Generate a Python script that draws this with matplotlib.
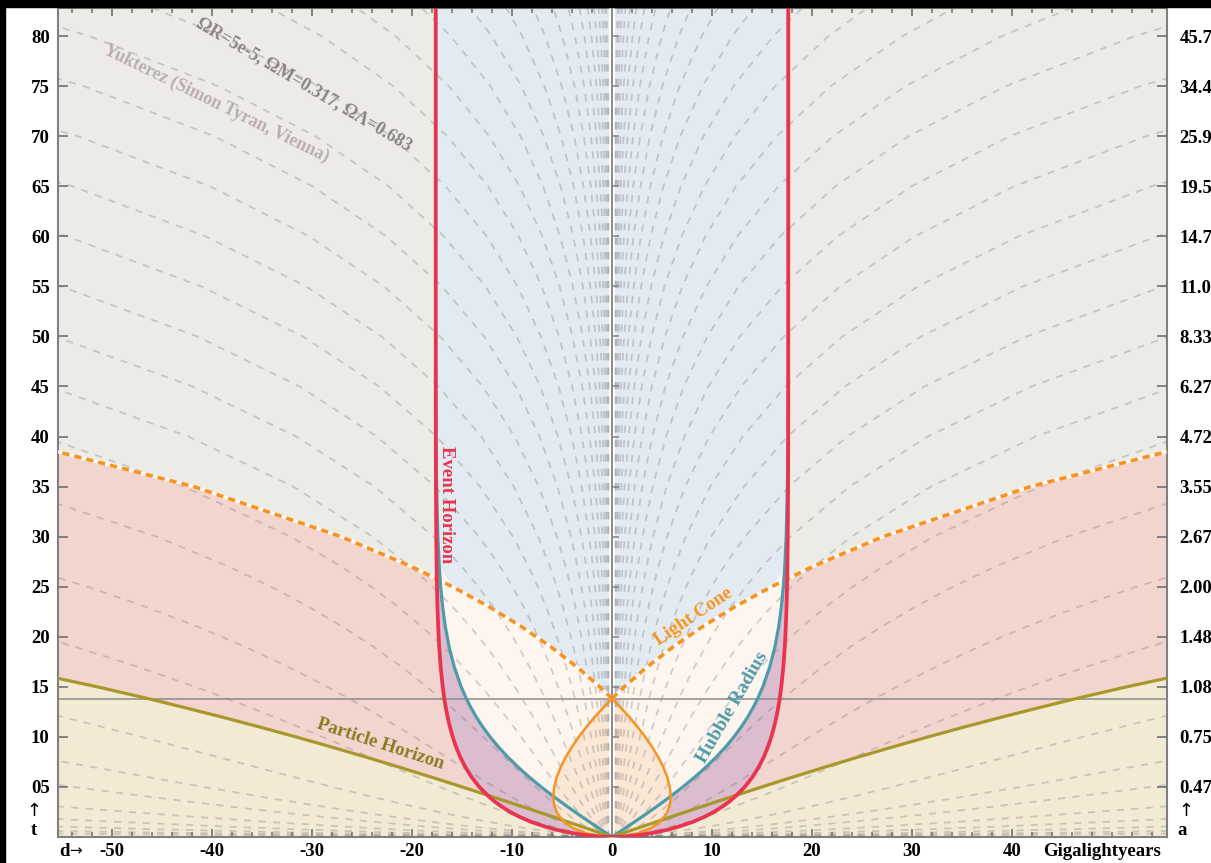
from matplotlib import pyplot as plt
from matplotlib.patches import Rectangle
import numpy as np

# cosmic time (Gyr) and the quantities read / estimated along it
t_gyr = [0, 0.02, 0.05, 0.1, 0.2, 0.35, 0.5, 0.75, 1, 1.5, 2, 2.5, 3, 3.5, 4, 5, 6, 7, 8, 9, 10, 11, 12, 13,
         13.83, 15, 17, 19, 21, 23, 25, 27, 30, 35, 40, 45, 50, 55, 60, 65, 70, 75, 80, 84]
scale_a = [0, 0.0112, 0.0205, 0.0324, 0.0514, 0.0745, 0.0945, 0.1238, 0.1500, 0.1968, 0.2387, 0.2774, 0.3140,
           0.3488, 0.3824, 0.4469, 0.5091, 0.5700, 0.6304, 0.6910, 0.7522, 0.8145, 0.8783, 0.9440,
           1.0, 1.0822, 1.2318, 1.3953, 1.5752, 1.7742, 1.9951, 2.2410, 2.6639, 3.5456, 4.7129, 6.2610,
           8.3156, 11.0432, 14.6648, 19.4739, 25.8598, 34.3396, 45.6000, 57.2137]
event_horizon = [0, 0.652, 1.155, 1.767, 2.677, 3.706, 4.531, 5.653, 6.574, 8.052, 9.218, 10.177, 10.985,
                 11.679, 12.281, 13.273, 14.053, 14.676, 15.181, 15.593, 15.931, 16.210, 16.441, 16.634,
                 16.768, 16.928, 17.134, 17.279, 17.381, 17.453, 17.504, 17.541, 17.576, 17.607, 17.620,
                 17.626, 17.628, 17.629, 17.630, 17.630, 17.630, 17.630, 17.630, 17.630]
hubble_radius = [0, 0.030, 0.075, 0.151, 0.301, 0.526, 0.751, 1.125, 1.498, 2.240, 2.973, 3.696, 4.407,
                 5.102, 5.781, 7.080, 8.294, 9.415, 10.438, 11.364, 12.193, 12.930, 13.581, 14.153,
                 14.570, 15.083, 15.779, 16.293, 16.668, 16.940, 17.136, 17.277, 17.418, 17.539, 17.591,
                 17.613, 17.623, 17.627, 17.629, 17.629, 17.630, 17.630, 17.630, 17.630]
particle_horizon = [0, 0.054, 0.139, 0.282, 0.570, 1.006, 1.444, 2.176, 2.911, 4.386, 5.869, 7.360, 8.861,
                    10.372, 11.894, 14.980, 18.129, 21.355, 24.670, 28.086, 31.618, 35.277, 39.079, 43.037,
                    46.410, 51.481, 60.731, 70.921, 82.192, 94.700, 108.612, 124.117, 150.815, 206.522,
                    280.299, 378.152, 508.024, 680.444, 909.381, 1213.375, 1617.045, 2153.080, 2864.883,
                    3599.023]
past_cone = [0, 0.465, 0.812, 1.224, 1.816, 2.456, 2.946, 3.576, 4.058, 4.753, 5.216, 5.525, 5.721, 5.830,
             5.868, 5.778, 5.516, 5.118, 4.610, 4.006, 3.318, 2.552, 1.713, 0.805,
             0, 0, 0, 0, 0, 0, 0, 0, 0, 0, 0, 0, 0, 0, 0, 0, 0, 0, 0, 0]
future_cone = [0] * 25 + [1.219, 3.521, 6.118, 9.033, 12.298, 15.951, 20.037, 27.093, 41.848, 61.409,
                          87.362, 121.811, 167.549, 228.278, 308.918, 416.000, 558.194, 747.014, 941.759]
t_now = 13.83

# comoving distances (Gly) of the dashed worldlines
comoving = [0.0104, 0.0139, 0.0187, 0.0251, 0.0337, 0.0452, 0.0606, 0.0814, 0.1092, 0.1466, 0.197, 0.264,
            0.354, 0.475, 0.637, 0.855, 1.147, 1.539, 2.066, 2.772, 3.72, 4.99, 6.70, 8.99, 12.07,
            17.1, 26.3, 38.5, 62.6, 91.3, 120.6, 174, 250, 360, 520, 750]

y_ticks = [5, 10, 15, 20, 25, 30, 35, 40, 45, 50, 55, 60, 65, 70, 75, 80]
y_labels = ["05", "10", "15", "20", "25", "30", "35", "40", "45", "50", "55", "60", "65", "70", "75", "80"]
a_labels = ["0.47", "0.75", "1.08", "1.48", "2.00", "2.67", "3.55", "4.72", "6.27", "8.33", "11.0", "14.7",
            "19.5", "25.9", "34.4", "45.7"]
x_ticks = [-50, -40, -30, -20, -10, 0, 10, 20, 30, 40]

serif = ['Liberation Serif', 'DejaVu Serif']
c_bg, c_pink, c_beige = '#edebe6', '#f2d5cf', '#f2ead5'
c_blue, c_purple, c_cream, c_peach = '#e3eaf2', '#dcbccf', '#fdf5ee', '#fbe7d6'
c_red, c_teal, c_olive, c_orange = '#e8344e', '#4e9baa', '#a8982b', '#f7931e'
TICKFS = 13.5

t = np.array(t_gyr)
a = np.array(scale_a)
dE = np.array(event_horizon)
dH = np.array(hubble_radius)
dP = np.array(particle_horizon)
dPast = np.array(past_cone)
dF = np.array(future_cone)
XMAX = 60

fig = plt.figure(figsize=(12.11, 8.63), dpi=100)
ax = fig.add_axes([58 / 1211, 26 / 863, 1109 / 1211, 829 / 863])
ax.set_facecolor(c_bg)

for s in (1, -1):
    ax.fill_betweenx(t, s * dF, s * dP, color=c_pink, lw=0, zorder=1)
    ax.fill_betweenx(t, s * dP, s * XMAX, color=c_beige, lw=0, zorder=1)
    ax.fill_betweenx(t, s * np.minimum(dF, dE), s * dE, color=c_purple, lw=0, zorder=2)
    ax.fill_betweenx(t, s * np.minimum(dF, dH), s * dH, color=c_cream, lw=0, zorder=3)
ax.fill_betweenx(t, -dE, dE, color=c_blue, lw=0, zorder=1.5)
ax.fill_betweenx(t, -dPast, dPast, color=c_peach, lw=0, zorder=3.5)

# comoving worldlines
for chi in comoving:
    for s in (1, -1):
        ax.plot(s * chi * a, t, color='#6f6f6f', alpha=0.3, lw=1.3, dashes=(4, 4), zorder=4)

ax.axhline(t_now, color='#8a8a8a', lw=1.1, zorder=5)
ax.axvline(0, color='white', lw=4, zorder=5)
ax.axvline(0, color='#8a8a8a', lw=1.4, zorder=5.1)
ax.plot(np.zeros(len(y_ticks)), y_ticks, ls='none', marker=1, ms=5, mew=1.2, color='#8a8a8a', zorder=5.1)

# horizons
ax.plot(np.concatenate([-dE[::-1], dE]), np.concatenate([t[::-1], t]), color=c_red, lw=2.7, zorder=8)
ax.plot(np.concatenate([-dH[::-1], dH]), np.concatenate([t[::-1], t]), color=c_teal, lw=2.3, zorder=7)
ax.plot(np.concatenate([-dP[::-1], dP]), np.concatenate([t[::-1], t]), color=c_olive, lw=2.3, zorder=7)
past = t <= t_now
ax.plot(np.concatenate([-dPast[past][::-1], dPast[past]]), np.concatenate([t[past][::-1], t[past]]),
        color=c_orange, lw=1.8, zorder=7)
fut = t >= t_now
for s in (1, -1):
    ax.plot(s * dF[fut], t[fut], color='white', lw=2.6, zorder=6.5, alpha=0.8)
    ax.plot(s * dF[fut], t[fut], color=c_orange, lw=2.6, dashes=(2.0, 1.4), zorder=6.6)

# curve labels
fw = 'bold'
ax.text(-16.5, 33.2, 'Event Horizon', rotation=-90, color=c_red, fontsize=13.5, family=serif,
        fontweight=fw, ha='center', va='center', zorder=9)
ax.text(12.0, 12.9, 'Hubble Radius', rotation=60, color=c_teal, fontsize=14, family=serif,
        fontweight=fw, ha='center', va='center', zorder=9)
ax.text(8.2, 22.0, 'Light Cone', rotation=34, color=c_orange, fontsize=13.5, family=serif,
        fontweight=fw, ha='center', va='center', zorder=9)
ax.text(-23.2, 9.3, 'Particle Horizon', rotation=-18, color='#8c7a20', fontsize=13.5, family=serif,
        fontweight=fw, ha='center', va='center', zorder=9)
ax.text(-30.8, 75.2, 'ΩR=5e-5, ΩM=0.317, ΩΛ=0.683', rotation=-30.5, color='#8e8282', fontsize=13,
        family=serif, fontweight=fw, ha='center', va='center', zorder=9)
ax.text(-39.6, 73.2, 'Yukterez (Simon Tyran, Vienna)', rotation=-26, color='#bcadad', fontsize=13,
        family=serif, fontweight=fw, ha='center', va='center', zorder=9)

ax.set_xlim(-55.4, 55.5)
ax.set_ylim(0, 82.8)

ax.set_xticks(x_ticks)
ax.set_xticklabels([str(v) for v in x_ticks], family=serif, fontweight='bold', fontsize=TICKFS)
ax.set_xticks(np.arange(-54, 56, 2), minor=True)
ax.set_yticks(y_ticks)
ax.set_yticklabels(y_labels, family=serif, fontweight='bold', fontsize=TICKFS)
ax.tick_params(axis='x', which='major', direction='in', length=6, width=1.2, top=True, color='#707070', pad=4)
ax.tick_params(axis='x', which='minor', direction='in', length=3.5, width=1.1, top=True, color='#707070')
ax.tick_params(axis='y', which='major', direction='in', length=7, width=1.2, right=True, color='#707070', pad=6)
for sp in ax.spines.values():
    sp.set_color('#808080')
    sp.set_linewidth(1.5)

ax2 = ax.twinx()
ax2.set_ylim(ax.get_ylim())
ax2.set_yticks(y_ticks)
ax2.set_yticklabels(a_labels, family=serif, fontweight='bold', fontsize=TICKFS)
ax2.tick_params(axis='y', direction='in', length=7, width=1.2, color='#707070', pad=9)
for sp in ax2.spines.values():
    sp.set_visible(False)

# axis hints
arrow_font = ['DejaVu Sans']
tr = ax.get_yaxis_transform()
ax.text(-0.022, 2.6, '↑', transform=tr, ha='center', va='center', family=arrow_font, fontsize=13)
ax.text(-0.022, 0.6, 't', transform=tr, ha='center', va='center', family=serif, fontweight='bold', fontsize=TICKFS)
ax.text(1.0105, 2.6, '↑', transform=tr, ha='left', va='center', family=arrow_font, fontsize=13)
ax.text(1.0095, 0.6, 'a', transform=tr, ha='left', va='center', family=serif, fontweight='bold', fontsize=TICKFS)
trx = ax.get_xaxis_transform()
ax.text(-55.3, -0.017, 'd', transform=trx, ha='left', va='center', family=serif, fontweight='bold',
        fontsize=TICKFS)
ax.text(-54.3, -0.017, '→', transform=trx, ha='left', va='center', family=arrow_font, fontsize=11)
ax.text(43.1, -0.017, 'Gigalightyears', transform=trx, ha='left', va='center', family=serif,
        fontweight='bold', fontsize=TICKFS)

# screenshot frame
fig.patches.append(Rectangle((0, 1 - 7 / 863), 1, 7 / 863, transform=fig.transFigure, color='black', zorder=20))
fig.patches.append(Rectangle((0, 0), 5 / 1211, 1, transform=fig.transFigure, color='black', zorder=20))

fig.savefig('out.png', dpi=100)
